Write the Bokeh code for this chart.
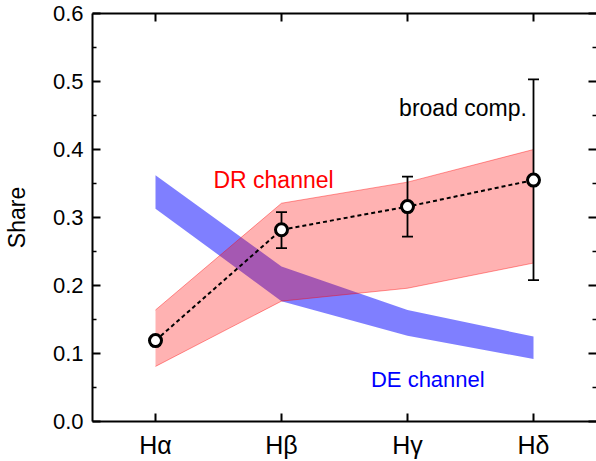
from bokeh.plotting import figure
from bokeh.models import Range1d, FixedTicker, LinearAxis, Label, PrintfTickFormatter
from bokeh.embed import file_html
from bokeh.resources import INLINE

# ---- data ----
lines = ["Hα", "Hβ", "Hγ", "Hδ"]
x_pos = [1, 2, 3, 4]
broad_share = [0.119, 0.282, 0.316, 0.355]
broad_lower = [0.119, 0.255, 0.272, 0.208]
broad_upper = [0.119, 0.308, 0.360, 0.503]
dr_lower = [0.081, 0.177, 0.196, 0.233]
dr_upper = [0.164, 0.321, 0.352, 0.400]
de_lower = [0.313, 0.177, 0.126, 0.092]
de_upper = [0.362, 0.228, 0.164, 0.125]
y_ticks = [0.0, 0.1, 0.2, 0.3, 0.4, 0.5, 0.6]
y_minor = [0.05, 0.15, 0.25, 0.35, 0.45, 0.55]

FONT = "Liberation Sans"

p = figure(width=596, height=461, x_range=Range1d(0.5, 4.5), y_range=Range1d(0.0, 0.6),
           output_backend="svg", toolbar_location=None,
           x_axis_type=None, y_axis_type=None,
           min_border_left=92, min_border_right=0, min_border_top=13, min_border_bottom=40)
p.outline_line_color = None
p.background_fill_color = "white"
p.border_fill_color = "white"

def style_common(ax):
    ax.axis_line_color = "black"
    ax.axis_line_width = 2
    ax.major_tick_line_color = "black"
    ax.major_tick_line_width = 2
    ax.minor_tick_line_color = "black"
    ax.minor_tick_line_width = 1.5
    ax.major_tick_in = 8
    ax.major_tick_out = 0
    ax.minor_tick_in = 4
    ax.minor_tick_out = 0

# left axis
yl = LinearAxis(ticker=FixedTicker(ticks=y_ticks, minor_ticks=y_minor),
                formatter=PrintfTickFormatter(format="%.1f"))
style_common(yl)
yl.major_label_text_font = FONT
yl.major_label_text_font_size = "22px"
yl.major_label_text_color = "black"
yl.major_label_standoff = 9
yl.axis_label = "Share"
yl.axis_label_text_font = FONT
yl.axis_label_text_font_size = "23px"
yl.axis_label_text_font_style = "normal"
yl.axis_label_text_color = "black"
yl.axis_label_standoff = 20
p.add_layout(yl, "left")

# right axis (ticks only)
yr = LinearAxis(ticker=FixedTicker(ticks=y_ticks, minor_ticks=y_minor))
style_common(yr)
yr.axis_line_color = None
yr.major_label_text_font_size = "0px"
yr.major_label_standoff = 0
yr.major_label_overrides = {t: "" for t in y_ticks}
p.add_layout(yr, "right")

# bottom axis
xb = LinearAxis(ticker=FixedTicker(ticks=x_pos, minor_ticks=[]))
style_common(xb)
xb.major_label_overrides = {x: s for x, s in zip(x_pos, lines)}
xb.major_label_text_font = FONT
xb.major_label_text_font_size = "25px"
xb.major_label_text_color = "black"
xb.major_label_standoff = 9
p.add_layout(xb, "below")

# top axis (ticks only)
xt = LinearAxis(ticker=FixedTicker(ticks=x_pos, minor_ticks=[]))
style_common(xt)
xt.major_label_text_font_size = "0px"
xt.major_label_standoff = 0
xt.major_label_overrides = {x: "" for x in x_pos}
p.add_layout(xt, "above")

# DE band (blue)
p.varea(x=x_pos, y1=de_lower, y2=de_upper, fill_color="blue", fill_alpha=0.5)
# DR band (red), on top
p.varea(x=x_pos, y1=dr_lower, y2=dr_upper, fill_color="red", fill_alpha=0.3)
p.line(x=x_pos, y=dr_upper, line_color="red", line_alpha=0.4, line_width=1)
p.line(x=x_pos, y=dr_lower, line_color="red", line_alpha=0.4, line_width=1)

# broad component
p.line(x=x_pos, y=broad_share, line_color="black", line_width=2, line_dash="4 3")
p.segment(x0=x_pos, y0=broad_lower, x1=x_pos, y1=broad_upper, line_color="black", line_width=1.8)
p.scatter(x=x_pos, y=broad_lower, marker="dash", size=11, line_color="black", line_width=1.8)
p.scatter(x=x_pos, y=broad_upper, marker="dash", size=11, line_color="black", line_width=1.8)
p.scatter(x=x_pos, y=broad_share, marker="circle", size=12, fill_color="white",
          line_color="black", line_width=3)

# labels
p.add_layout(Label(x=1.46, y=0.3546, text="DR channel", text_color="red", text_font=FONT,
                   text_font_size="23px", text_baseline="alphabetic", text_align="left"))
p.add_layout(Label(x=2.71, y=0.0612, text="DE channel", text_color="blue", text_font=FONT,
                   text_font_size="22px", text_baseline="alphabetic", text_align="left"))
p.add_layout(Label(x=3.948, y=0.4607, text="broad comp.", text_color="black", text_font=FONT,
                   text_font_size="23px", text_baseline="alphabetic", text_align="right"))

open("out.html", "w").write(file_html(p, INLINE))
